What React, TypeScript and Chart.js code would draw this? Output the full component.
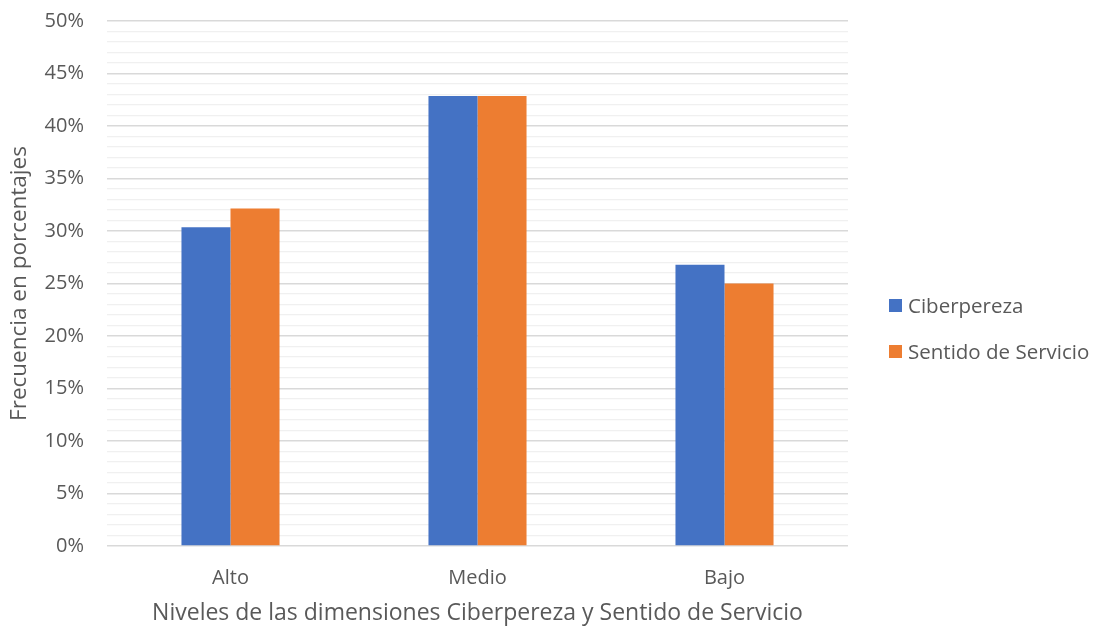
import React, { useEffect, useRef } from "react";
import { Chart, registerables } from "chart.js";

Chart.register(...registerables);

const categories = ["Alto", "Medio", "Bajo"];
const ciberpereza = [30.36, 42.86, 26.79];
const sentidoServicio = [32.14, 42.86, 25.0];
const seriesNames = ["Ciberpereza", "Sentido de Servicio"];
const seriesColors = ["#4472C4", "#ED7D31"];

const FONT = "'Open Sans', 'Noto Sans', sans-serif";
const TEXT = "#595959";

export default function App() {
  const ref = useRef<HTMLCanvasElement | null>(null);

  useEffect(() => {
    document.body.style.margin = "0";
    const ctx = ref.current!;
    const chart = new Chart(ctx, {
      type: "bar",
      data: {
        labels: categories,
        datasets: [
          {
            label: seriesNames[0],
            data: ciberpereza,
            backgroundColor: seriesColors[0],
            categoryPercentage: 0.397,
            barPercentage: 1,
          },
          {
            label: seriesNames[1],
            data: sentidoServicio,
            backgroundColor: seriesColors[1],
            categoryPercentage: 0.397,
            barPercentage: 1,
          },
        ],
      },
      options: {
        animation: false,
        responsive: false,
        maintainAspectRatio: false,
        layout: { padding: { top: 21, right: 249, bottom: 1, left: 0 } },
        plugins: {
          legend: { display: false },
          tooltip: { enabled: false },
        },
        scales: {
          x: {
            grid: { display: false },
            border: { display: false },
            ticks: {
              color: TEXT,
              font: { family: FONT, size: 20 },
              padding: 12,
            },
            title: {
              display: true,
              text: "Niveles de las dimensiones Ciberpereza y Sentido de Servicio",
              color: TEXT,
              font: { family: FONT, size: 23 },
              padding: { top: 4, bottom: 2 },
            },
            afterFit: (scale: any) => {
              scale.height = 83;
              scale.paddingLeft = 0;
              scale.paddingRight = 0;
            },
          },
          y: {
            min: 0,
            max: 50,
            border: { display: false },
            grid: {
              drawTicks: false,
              color: (c: any) =>
                c.tick && c.tick.value % 5 === 0 ? "#d9d9d9" : "#f0f0f0",
              lineWidth: (c: any) =>
                c.tick && c.tick.value % 5 === 0 ? 1.5 : 1.2,
            },
            ticks: {
              stepSize: 1,
              autoSkip: false,
              color: TEXT,
              font: { family: FONT, size: 20 },
              padding: 23,
              callback: (v: any) => (Number(v) % 5 === 0 ? `${v}%` : ""),
            },
            title: {
              display: true,
              text: "Frecuencia en porcentajes",
              color: TEXT,
              font: { family: FONT, size: 22.5 },
              padding: { top: 6, bottom: 4 },
            },
            afterFit: (scale: any) => {
              scale.width = 107;
              scale.paddingTop = 0;
              scale.paddingBottom = 0;
            },
          },
        },
      },
    });
    return () => chart.destroy();
  }, []);

  const legendItem = (i: number, top: number) => (
    <div
      key={i}
      style={{
        position: "absolute",
        left: 889,
        top: top - 14,
        height: 28,
        display: "flex",
        alignItems: "center",
        fontFamily: FONT,
        fontSize: 20.5,
        color: TEXT,
        whiteSpace: "nowrap",
      }}
    >
      <span
        style={{
          display: "inline-block",
          width: 13,
          height: 13,
          background: seriesColors[i],
          marginRight: 6,
        }}
      />
      <span>{seriesNames[i]}</span>
    </div>
  );

  return (
    <div style={{ position: "relative", width: 1097, height: 630, background: "#fff" }}>
      <canvas ref={ref} width={1097} height={630} style={{ display: "block" }} />
      {legendItem(0, 305)}
      {legendItem(1, 351)}
    </div>
  );
}
